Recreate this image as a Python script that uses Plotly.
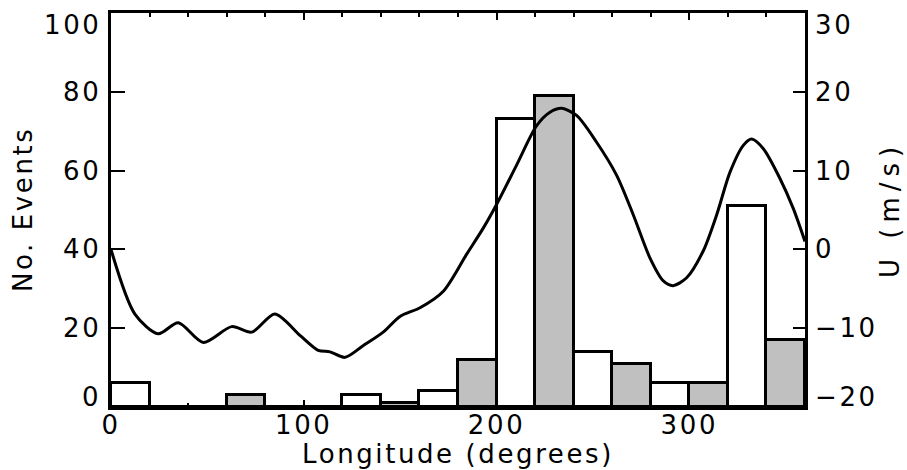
import plotly.graph_objects as go

# ---- data ----
bin_left = [0, 20, 40, 60, 80, 100, 120, 140, 160, 180, 200, 220, 240, 260, 280, 300, 320, 340]
bin_width = 20
counts = [6, 0, 0, 3, 0, 0, 3, 1, 4, 12, 73, 79, 14, 11, 6, 6, 51, 17]
bar_colors = ["white", "#c0c0c0"] * 9

lon = [0, 12.4, 24.5, 34.9, 47.9, 62.6, 73, 85, 98, 107.5, 113.6, 121.4, 130.9, 141.2,
       149.9, 160.3, 172.4, 184.5, 193.1, 200, 210.4, 220.8, 227.7, 233.8, 241.5, 251.9,
       262.3, 270.9, 279.6, 286.5, 291.6, 298.6, 307.2, 314.2, 321.1, 328, 332.3, 338.3,
       347, 353.9, 360]
wind = [0, -8.2, -10.7, -9.3, -11.8, -9.8, -10.5, -8.2, -10.9, -12.8, -13.0, -13.7, -12.2, -10.5,
        -8.5, -7.4, -5.3, -0.6, 2.7, 5.7, 10.7, 15.7, 17.4, 17.9, 17.0, 13.6,
        9.4, 4.4, -1.1, -4.0, -4.6, -3.6, -0.2, 4.4, 9.8, 13.2, 14.0, 12.8,
        9.0, 5.2, 1.0]

x_ticks = [0, 100, 200, 300]
left_ticks = [0, 20, 40, 60, 80, 100]
right_ticks = [-20, -10, 0, 10, 20, 30]

FONT = "DejaVu Sans"
FS = 26
LS = "2.6px"


def spaced(s, ls=LS):
    return '<span style="letter-spacing:%s">%s</span>' % (ls, s)


fig = go.Figure()
fig.add_trace(go.Bar(
    x=[b + bin_width / 2 for b in bin_left], y=counts, width=bin_width,
    marker=dict(color=bar_colors, line=dict(color="black", width=3)),
    yaxis="y", showlegend=False,
))
fig.add_trace(go.Scatter(
    x=lon, y=wind, mode="lines", line=dict(color="black", width=3, shape="spline", smoothing=0.8),
    yaxis="y2", showlegend=False,
))

fig.update_layout(
    width=907, height=470,
    margin=dict(l=111, r=102, t=10, b=63),
    paper_bgcolor="white", plot_bgcolor="white",
    bargap=0,
    font=dict(family=FONT, size=FS, color="black"),
    xaxis=dict(range=[0, 360], tickvals=x_ticks, ticktext=[spaced(str(t)) for t in x_ticks],
               ticks="inside", ticklen=7, tickwidth=2, ticklabelstandoff=-7,
               tickcolor="black", showline=True, linecolor="black", linewidth=3, mirror="ticks",
               showgrid=False, zeroline=False,
               minor=dict(dtick=20, tick0=0, ticks="inside", ticklen=4, tickwidth=2, tickcolor="black"),
               tickfont=dict(family=FONT, size=FS)),
    yaxis=dict(range=[0, 100], tickvals=left_ticks, ticks="inside", ticklen=14, tickwidth=2,
               tickcolor="black", showline=True, linecolor="black", linewidth=3,
               showgrid=False, zeroline=False, showticklabels=False),
    yaxis2=dict(range=[-20, 30], tickvals=right_ticks, ticks="inside", ticklen=12, tickwidth=2,
                tickcolor="black", showline=True, linecolor="black", linewidth=3,
                overlaying="y", side="right", showgrid=False, zeroline=False, showticklabels=False),
)

ann = []
for i, t in enumerate(left_ticks):
    shift = -12 if i == len(left_ticks) - 1 else (10 if i == 0 else 0)
    ann.append(dict(x=0, xref="paper", y=t, yref="y", text=spaced(str(t)), showarrow=False,
                    xanchor="right", yanchor="middle", xshift=-8, yshift=shift,
                    font=dict(family=FONT, size=FS)))
for i, t in enumerate(right_ticks):
    shift = -12 if i == len(right_ticks) - 1 else (10 if i == 0 else 0)
    lab = str(t).replace("-", "\u2212")
    ann.append(dict(x=1, xref="paper", y=t, yref="y2", text=spaced(lab), showarrow=False,
                    xanchor="left", yanchor="middle", xshift=8, yshift=shift,
                    font=dict(family=FONT, size=FS)))
ann.append(dict(x=0.5, xref="paper", y=0, yref="paper", text=spaced("Longitude (degrees)"), showarrow=False,
                xanchor="center", yanchor="top", yshift=-30, font=dict(family=FONT, size=FS)))
ann.append(dict(x=0, xref="paper", y=0.5, yref="paper", text=spaced("No. Events"), showarrow=False,
                textangle=-90, xanchor="center", yanchor="middle", xshift=-88,
                font=dict(family=FONT, size=FS)))
ann.append(dict(x=1, xref="paper", y=0.5, yref="paper", text=spaced("U (m/s)", "6px"), showarrow=False,
                textangle=-90, xanchor="center", yanchor="middle", xshift=85,
                font=dict(family=FONT, size=FS)))
fig.update_layout(annotations=ann)

fig.write_html("out.html")
